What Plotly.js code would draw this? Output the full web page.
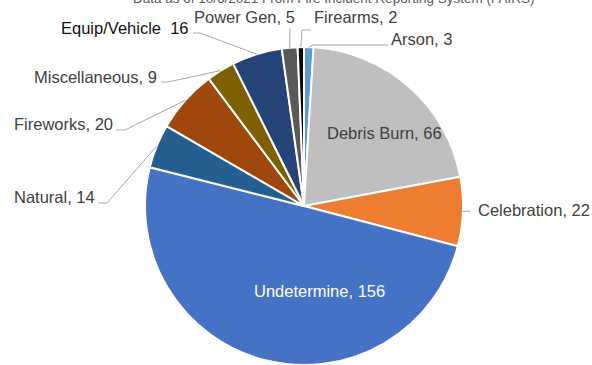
<!DOCTYPE html>
<html>
<head>
<meta charset="utf-8">
<script src="https://cdn.plot.ly/plotly-3.0.1.min.js"></script>
<style>html,body{margin:0;padding:0;background:#fff;}#chart{width:592px;height:365px;}</style>
</head>
<body>
<div id="chart"></div>
<script>
// ---- data ----
var categories = ["Arson", "Debris Burn", "Celebration", "Undetermine", "Natural", "Fireworks", "Miscellaneous", "Equip/Vehicle", "Power Gen", "Firearms"];
var values = [3, 66, 22, 156, 14, 20, 9, 16, 5, 2];
var labelSep = [", ", ", ", ", ", ", ", ", ", ", ", ", ", "  ", ", ", ", "];
var colors = ["#5B9BD5", "#BFBFBF", "#ED7D31", "#4472C4", "#255E91", "#9E480E", "#7F6000", "#264478", "#595959", "#0A0A0A"];
var subtitle = "Data as of 10/6/2021 From Fire Incident Reporting System (FAIRS)";

// ---- layout helpers (pixels) ----
var W = 592, H = 365;
var pie = {left: 145, right: 463, top: 47, bottom: 365};
var cx = (pie.left + pie.right) / 2, cy = (pie.top + pie.bottom) / 2;
var R = (pie.right - pie.left) / 2;
function X(px) { return px / W; }
function Y(py) { return 1 - py / H; }

// label placement (layout only)
var place = {
  "Arson":         {tx: 389, ty: 39, xa: "left",  path: [[313, 45], [388, 45]]},
  "Firearms":      {tx: 312, ty: 17, xa: "left",  path: [[302, 30], [311, 30]]},
  "Power Gen":     {tx: 297, ty: 17, xa: "right", path: [[290, 28]]},
  "Equip/Vehicle": {tx: 191, ty: 28, xa: "right", path: [[200, 33], [193, 33]], color: "#111"},
  "Miscellaneous": {tx: 159, ty: 77, xa: "right", path: [[168, 82], [161, 82]]},
  "Fireworks":     {tx: 115, ty: 124, xa: "right", path: [[125, 130], [116, 130]]},
  "Natural":       {tx: 97,  ty: 197, xa: "right", path: [[107, 203], [98, 203]]},
  "Celebration":   {tx: 476, ty: 210, xa: "left",  path: [[471, 211]]},
  "Debris Burn":   {tx: 384, ty: 133, xa: "center", inside: true, color: "#404040"},
  "Undetermine":   {tx: 319, ty: 291, xa: "center", inside: true, color: "#ffffff"}
};

var total = values.reduce(function (a, b) { return a + b; }, 0);
var annotations = [], shapes = [];
var cum = 0;
var font = "Liberation Sans, Arial, sans-serif";
for (var i = 0; i < categories.length; i++) {
  var mid = (cum + values[i] / 2) / total * 2 * Math.PI;
  cum += values[i];
  var p = place[categories[i]];
  annotations.push({
    xref: "paper", yref: "paper", x: X(p.tx), y: Y(p.ty),
    xanchor: p.xa, yanchor: "middle", showarrow: false,
    text: categories[i] + labelSep[i] + values[i],
    font: {family: font, size: 16.5, color: p.color || "#404040"}
  });
  if (!p.inside) {
    var ex = cx + R * Math.sin(mid), ey = cy - R * Math.cos(mid);
    var d = "M " + X(ex) + "," + Y(ey);
    p.path.forEach(function (pt) { d += " L " + X(pt[0]) + "," + Y(pt[1]); });
    shapes.push({type: "path", xref: "paper", yref: "paper", path: d,
      line: {color: "#A6A6A6", width: 1}});
  }
}
annotations.push({
  xref: "paper", yref: "paper", x: X(333), y: Y(-2), xanchor: "center", yanchor: "middle",
  showarrow: false, text: subtitle, font: {family: font, size: 13.5, color: "#595959"}
});

var trace = {
  type: "pie",
  labels: categories,
  values: values,
  sort: false,
  direction: "clockwise",
  rotation: 0,
  textinfo: "none",
  hoverinfo: "label+value",
  marker: {colors: colors, line: {color: "#ffffff", width: 2}},
  domain: {x: [X(pie.left), X(pie.right)], y: [Y(pie.bottom), Y(pie.top)]},
  showlegend: false
};

var layout = {
  width: W, height: H,
  margin: {l: 0, r: 0, t: 0, b: 0},
  paper_bgcolor: "#ffffff",
  showlegend: false,
  annotations: annotations,
  shapes: shapes
};

Plotly.newPlot("chart", [trace], layout, {staticPlot: true, displayModeBar: false});
</script>
</body>
</html>
